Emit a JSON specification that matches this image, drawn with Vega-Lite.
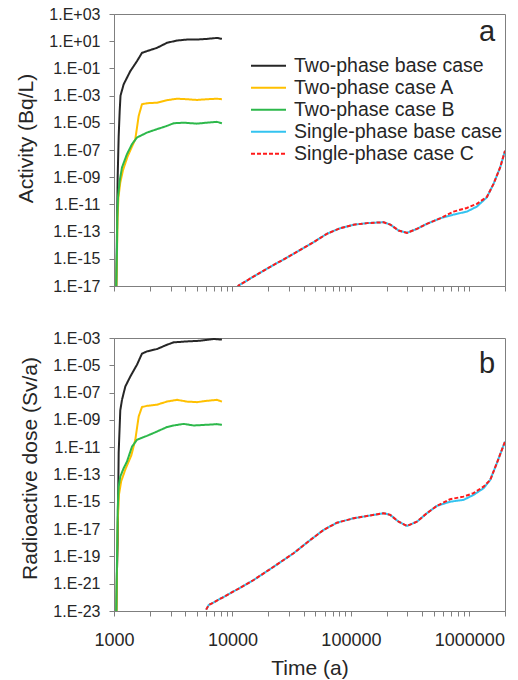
{
  "$schema": "https://vega.github.io/schema/vega-lite/v6.json",
  "padding": {"left": 15, "top": 5, "right": 5, "bottom": 5},
  "config": {
    "font": "Liberation Sans",
    "view": {"stroke": "#7f7f7f", "strokeWidth": 1},
    "axis": {"grid": false, "domainColor": "#7f7f7f", "tickColor": "#7f7f7f", "labelColor": "#262626", "titleColor": "#262626", "labelFont": "Liberation Sans", "titleFont": "Liberation Sans", "titleFontWeight": "normal", "labelFontSize": 16, "titleFontSize": 21, "tickSize": 5},
    "concat": {"spacing": 34}
  },
  "data": {"values": [
    {"panel":"a","series":"Two-phase base case","time":1044,"value":3e-18},
    {"panel":"a","series":"Two-phase base case","time":1060,"value":1e-13},
    {"panel":"a","series":"Two-phase base case","time":1074,"value":1e-9},
    {"panel":"a","series":"Two-phase base case","time":1095,"value":1e-6},
    {"panel":"a","series":"Two-phase base case","time":1117,"value":7.4e-5},
    {"panel":"a","series":"Two-phase base case","time":1135,"value":1e-3},
    {"panel":"a","series":"Two-phase base case","time":1207,"value":6.8e-3},
    {"panel":"a","series":"Two-phase base case","time":1373,"value":0.063},
    {"panel":"a","series":"Two-phase base case","time":1563,"value":0.34},
    {"panel":"a","series":"Two-phase base case","time":1722,"value":1.38},
    {"panel":"a","series":"Two-phase base case","time":1897,"value":1.86},
    {"panel":"a","series":"Two-phase base case","time":2305,"value":3.24},
    {"panel":"a","series":"Two-phase base case","time":2800,"value":7.6},
    {"panel":"a","series":"Two-phase base case","time":3404,"value":11.2},
    {"panel":"a","series":"Two-phase base case","time":4131,"value":13.2},
    {"panel":"a","series":"Two-phase base case","time":5015,"value":13.2},
    {"panel":"a","series":"Two-phase base case","time":6090,"value":14.8},
    {"panel":"a","series":"Two-phase base case","time":7396,"value":17.4},
    {"panel":"a","series":"Two-phase base case","time":8150,"value":14.8},
    {"panel":"a","series":"Two-phase case A","time":1046,"value":1e-18},
    {"panel":"a","series":"Two-phase case A","time":1048,"value":1e-17},
    {"panel":"a","series":"Two-phase case A","time":1063,"value":1e-14},
    {"panel":"a","series":"Two-phase case A","time":1072,"value":1e-12},
    {"panel":"a","series":"Two-phase case A","time":1090,"value":3.2e-11},
    {"panel":"a","series":"Two-phase case A","time":1130,"value":4e-10},
    {"panel":"a","series":"Two-phase case A","time":1190,"value":3.2e-9},
    {"panel":"a","series":"Two-phase case A","time":1300,"value":3.2e-8},
    {"panel":"a","series":"Two-phase case A","time":1420,"value":1.8e-7},
    {"panel":"a","series":"Two-phase case A","time":1513,"value":6.3e-7},
    {"panel":"a","series":"Two-phase case A","time":1616,"value":3.2e-5},
    {"panel":"a","series":"Two-phase case A","time":1722,"value":2.3e-4},
    {"panel":"a","series":"Two-phase case A","time":1897,"value":2.75e-4},
    {"panel":"a","series":"Two-phase case A","time":2305,"value":3e-4},
    {"panel":"a","series":"Two-phase case A","time":2800,"value":4.6e-4},
    {"panel":"a","series":"Two-phase case A","time":3404,"value":5.9e-4},
    {"panel":"a","series":"Two-phase case A","time":4131,"value":5.4e-4},
    {"panel":"a","series":"Two-phase case A","time":5015,"value":4.8e-4},
    {"panel":"a","series":"Two-phase case A","time":6090,"value":5.4e-4},
    {"panel":"a","series":"Two-phase case A","time":7396,"value":5.9e-4},
    {"panel":"a","series":"Two-phase case A","time":8150,"value":5.4e-4},
    {"panel":"a","series":"Two-phase case B","time":1044,"value":1e-18},
    {"panel":"a","series":"Two-phase case B","time":1045,"value":1.6e-17},
    {"panel":"a","series":"Two-phase case B","time":1060,"value":7.2e-15},
    {"panel":"a","series":"Two-phase case B","time":1066,"value":1.15e-12},
    {"panel":"a","series":"Two-phase case B","time":1081,"value":3.3e-11},
    {"panel":"a","series":"Two-phase case B","time":1117,"value":5.5e-10},
    {"panel":"a","series":"Two-phase case B","time":1168,"value":5.2e-9},
    {"panel":"a","series":"Two-phase case B","time":1287,"value":5e-8},
    {"panel":"a","series":"Two-phase case B","time":1419,"value":2.7e-7},
    {"panel":"a","series":"Two-phase case B","time":1563,"value":8.3e-7},
    {"panel":"a","series":"Two-phase case B","time":1897,"value":1.9e-6},
    {"panel":"a","series":"Two-phase case B","time":2305,"value":3.4e-6},
    {"panel":"a","series":"Two-phase case B","time":2800,"value":5.9e-6},
    {"panel":"a","series":"Two-phase case B","time":3190,"value":9.3e-6},
    {"panel":"a","series":"Two-phase case B","time":3874,"value":1.02e-5},
    {"panel":"a","series":"Two-phase case B","time":5015,"value":8.7e-6},
    {"panel":"a","series":"Two-phase case B","time":6090,"value":1.02e-5},
    {"panel":"a","series":"Two-phase case B","time":7396,"value":1.17e-5},
    {"panel":"a","series":"Two-phase case B","time":8150,"value":9.3e-6},
    {"panel":"a","series":"Single-phase base case","time":11000,"value":7.9e-18},
    {"panel":"a","series":"Single-phase base case","time":11270,"value":1.1e-17},
    {"panel":"a","series":"Single-phase base case","time":19540,"value":1.86e-16},
    {"panel":"a","series":"Single-phase base case","time":32800,"value":2.3e-15},
    {"panel":"a","series":"Single-phase base case","time":48400,"value":1.66e-14},
    {"panel":"a","series":"Single-phase base case","time":62700,"value":6.9e-14},
    {"panel":"a","series":"Single-phase base case","time":81200,"value":1.78e-13},
    {"panel":"a","series":"Single-phase base case","time":105400,"value":3.2e-13},
    {"panel":"a","series":"Single-phase base case","time":136500,"value":4.2e-13},
    {"panel":"a","series":"Single-phase base case","time":188800,"value":4.9e-13},
    {"panel":"a","series":"Single-phase base case","time":214800,"value":3.3e-13},
    {"panel":"a","series":"Single-phase base case","time":252800,"value":1.2e-13},
    {"panel":"a","series":"Single-phase base case","time":297200,"value":8.1e-14},
    {"panel":"a","series":"Single-phase base case","time":360800,"value":1.58e-13},
    {"panel":"a","series":"Single-phase base case","time":437800,"value":3.7e-13},
    {"panel":"a","series":"Single-phase base case","time":567000,"value":9.5e-13},
    {"panel":"a","series":"Single-phase base case","time":736000,"value":1.78e-12},
    {"panel":"a","series":"Single-phase base case","time":953000,"value":2.95e-12},
    {"panel":"a","series":"Single-phase base case","time":1157000,"value":6.9e-12},
    {"panel":"a","series":"Single-phase base case","time":1405000,"value":3.3e-11},
    {"panel":"a","series":"Single-phase base case","time":1600000,"value":3.2e-10},
    {"panel":"a","series":"Single-phase base case","time":1820000,"value":5.2e-9},
    {"panel":"a","series":"Single-phase base case","time":2000000,"value":8.7e-8},
    {"panel":"b","series":"Two-phase base case","time":1044,"value":1e-24},
    {"panel":"b","series":"Two-phase base case","time":1060,"value":1e-20},
    {"panel":"b","series":"Two-phase base case","time":1074,"value":1e-18},
    {"panel":"b","series":"Two-phase base case","time":1095,"value":4e-12},
    {"panel":"b","series":"Two-phase base case","time":1130,"value":5e-9},
    {"panel":"b","series":"Two-phase base case","time":1168,"value":2.95e-8},
    {"panel":"b","series":"Two-phase base case","time":1246,"value":2.8e-7},
    {"panel":"b","series":"Two-phase base case","time":1373,"value":1.5e-6},
    {"panel":"b","series":"Two-phase base case","time":1563,"value":1.1e-5},
    {"panel":"b","series":"Two-phase base case","time":1722,"value":7.1e-5},
    {"panel":"b","series":"Two-phase base case","time":1897,"value":1.05e-4},
    {"panel":"b","series":"Two-phase base case","time":2305,"value":1.55e-4},
    {"panel":"b","series":"Two-phase base case","time":2800,"value":3.2e-4},
    {"panel":"b","series":"Two-phase base case","time":3190,"value":4.8e-4},
    {"panel":"b","series":"Two-phase base case","time":4131,"value":5.6e-4},
    {"panel":"b","series":"Two-phase base case","time":5345,"value":6.3e-4},
    {"panel":"b","series":"Two-phase base case","time":6950,"value":8.5e-4},
    {"panel":"b","series":"Two-phase base case","time":8150,"value":7.6e-4},
    {"panel":"b","series":"Two-phase case A","time":1046,"value":1e-24},
    {"panel":"b","series":"Two-phase case A","time":1060,"value":1e-20},
    {"panel":"b","series":"Two-phase case A","time":1075,"value":3.2e-17},
    {"panel":"b","series":"Two-phase case A","time":1100,"value":3.2e-15},
    {"panel":"b","series":"Two-phase case A","time":1150,"value":3.2e-14},
    {"panel":"b","series":"Two-phase case A","time":1250,"value":2.5e-13},
    {"panel":"b","series":"Two-phase case A","time":1400,"value":2.5e-12},
    {"panel":"b","series":"Two-phase case A","time":1513,"value":3.5e-11},
    {"panel":"b","series":"Two-phase case A","time":1616,"value":1.8e-9},
    {"panel":"b","series":"Two-phase case A","time":1722,"value":8.7e-9},
    {"panel":"b","series":"Two-phase case A","time":1897,"value":1.07e-8},
    {"panel":"b","series":"Two-phase case A","time":2305,"value":1.3e-8},
    {"panel":"b","series":"Two-phase case A","time":2800,"value":2.2e-8},
    {"panel":"b","series":"Two-phase case A","time":3404,"value":2.95e-8},
    {"panel":"b","series":"Two-phase case A","time":4131,"value":2.2e-8},
    {"panel":"b","series":"Two-phase case A","time":5015,"value":2e-8},
    {"panel":"b","series":"Two-phase case A","time":6090,"value":2.5e-8},
    {"panel":"b","series":"Two-phase case A","time":7396,"value":2.95e-8},
    {"panel":"b","series":"Two-phase case A","time":8150,"value":2.2e-8},
    {"panel":"b","series":"Two-phase case B","time":1044,"value":1e-24},
    {"panel":"b","series":"Two-phase case B","time":1045,"value":1.2e-23},
    {"panel":"b","series":"Two-phase case B","time":1060,"value":5.4e-20},
    {"panel":"b","series":"Two-phase case B","time":1074,"value":2.5e-16},
    {"panel":"b","series":"Two-phase case B","time":1095,"value":1.3e-14},
    {"panel":"b","series":"Two-phase case B","time":1130,"value":7.1e-14},
    {"panel":"b","series":"Two-phase case B","time":1207,"value":2.9e-13},
    {"panel":"b","series":"Two-phase case B","time":1287,"value":8.9e-13},
    {"panel":"b","series":"Two-phase case B","time":1419,"value":1.1e-11},
    {"panel":"b","series":"Two-phase case B","time":1563,"value":3.5e-11},
    {"panel":"b","series":"Two-phase case B","time":1897,"value":6.8e-11},
    {"panel":"b","series":"Two-phase case B","time":2305,"value":1.4e-10},
    {"panel":"b","series":"Two-phase case B","time":2800,"value":3e-10},
    {"panel":"b","series":"Two-phase case B","time":3190,"value":3.9e-10},
    {"panel":"b","series":"Two-phase case B","time":3874,"value":5.1e-10},
    {"panel":"b","series":"Two-phase case B","time":4706,"value":3.9e-10},
    {"panel":"b","series":"Two-phase case B","time":6090,"value":4.4e-10},
    {"panel":"b","series":"Two-phase case B","time":7396,"value":4.9e-10},
    {"panel":"b","series":"Two-phase case B","time":8150,"value":4.4e-10},
    {"panel":"b","series":"Single-phase base case","time":6000,"value":1.26e-23},
    {"panel":"b","series":"Single-phase base case","time":6300,"value":2.7e-23},
    {"panel":"b","series":"Single-phase base case","time":9570,"value":1.95e-22},
    {"panel":"b","series":"Single-phase base case","time":15090,"value":1.86e-21},
    {"panel":"b","series":"Single-phase base case","time":22270,"value":1.74e-20},
    {"panel":"b","series":"Single-phase base case","time":32800,"value":1.7e-19},
    {"panel":"b","series":"Single-phase base case","time":45380,"value":1.58e-18},
    {"panel":"b","series":"Single-phase base case","time":58860,"value":8.7e-18},
    {"panel":"b","series":"Single-phase base case","time":76250,"value":2.95e-17},
    {"panel":"b","series":"Single-phase base case","time":105400,"value":6.2e-17},
    {"panel":"b","series":"Single-phase base case","time":136500,"value":9.1e-17},
    {"panel":"b","series":"Single-phase base case","time":188800,"value":1.45e-16},
    {"panel":"b","series":"Single-phase base case","time":214800,"value":1.1e-16},
    {"panel":"b","series":"Single-phase base case","time":252800,"value":3.5e-17},
    {"panel":"b","series":"Single-phase base case","time":297200,"value":1.7e-17},
    {"panel":"b","series":"Single-phase base case","time":360800,"value":3.5e-17},
    {"panel":"b","series":"Single-phase base case","time":437800,"value":1.45e-16},
    {"panel":"b","series":"Single-phase base case","time":532000,"value":5e-16},
    {"panel":"b","series":"Single-phase base case","time":688700,"value":1.02e-15},
    {"panel":"b","series":"Single-phase base case","time":893000,"value":1.38e-15},
    {"panel":"b","series":"Single-phase base case","time":1084000,"value":3.2e-15},
    {"panel":"b","series":"Single-phase base case","time":1318000,"value":9.8e-15},
    {"panel":"b","series":"Single-phase base case","time":1500000,"value":4e-14},
    {"panel":"b","series":"Single-phase base case","time":1707000,"value":6.8e-13},
    {"panel":"b","series":"Single-phase base case","time":2000000,"value":2.6e-11},
    {"panel":"a","series":"Single-phase case C","time":11000,"value":7.9e-18},
    {"panel":"a","series":"Single-phase case C","time":11270,"value":1.1e-17},
    {"panel":"a","series":"Single-phase case C","time":19540,"value":1.86e-16},
    {"panel":"a","series":"Single-phase case C","time":32800,"value":2.3e-15},
    {"panel":"a","series":"Single-phase case C","time":48400,"value":1.66e-14},
    {"panel":"a","series":"Single-phase case C","time":62700,"value":6.9e-14},
    {"panel":"a","series":"Single-phase case C","time":81200,"value":1.78e-13},
    {"panel":"a","series":"Single-phase case C","time":105400,"value":3.2e-13},
    {"panel":"a","series":"Single-phase case C","time":136500,"value":4.2e-13},
    {"panel":"a","series":"Single-phase case C","time":188800,"value":4.9e-13},
    {"panel":"a","series":"Single-phase case C","time":214800,"value":3.3e-13},
    {"panel":"a","series":"Single-phase case C","time":252800,"value":1.2e-13},
    {"panel":"a","series":"Single-phase case C","time":297200,"value":8.1e-14},
    {"panel":"a","series":"Single-phase case C","time":360800,"value":1.58e-13},
    {"panel":"a","series":"Single-phase case C","time":437800,"value":3.7e-13},
    {"panel":"a","series":"Single-phase case C","time":567000,"value":9.5e-13},
    {"panel":"a","series":"Single-phase case C","time":736000,"value":2.95e-12},
    {"panel":"a","series":"Single-phase case C","time":953000,"value":5.5e-12},
    {"panel":"a","series":"Single-phase case C","time":1157000,"value":1.1e-11},
    {"panel":"a","series":"Single-phase case C","time":1405000,"value":3.5e-11},
    {"panel":"a","series":"Single-phase case C","time":1600000,"value":3.2e-10},
    {"panel":"a","series":"Single-phase case C","time":1820000,"value":5.2e-9},
    {"panel":"a","series":"Single-phase case C","time":2000000,"value":8.7e-8},
    {"panel":"b","series":"Single-phase case C","time":6000,"value":1.26e-23},
    {"panel":"b","series":"Single-phase case C","time":6300,"value":2.7e-23},
    {"panel":"b","series":"Single-phase case C","time":9570,"value":1.95e-22},
    {"panel":"b","series":"Single-phase case C","time":15090,"value":1.86e-21},
    {"panel":"b","series":"Single-phase case C","time":22270,"value":1.74e-20},
    {"panel":"b","series":"Single-phase case C","time":32800,"value":1.7e-19},
    {"panel":"b","series":"Single-phase case C","time":45380,"value":1.58e-18},
    {"panel":"b","series":"Single-phase case C","time":58860,"value":8.7e-18},
    {"panel":"b","series":"Single-phase case C","time":76250,"value":2.95e-17},
    {"panel":"b","series":"Single-phase case C","time":105400,"value":6.2e-17},
    {"panel":"b","series":"Single-phase case C","time":136500,"value":9.1e-17},
    {"panel":"b","series":"Single-phase case C","time":188800,"value":1.45e-16},
    {"panel":"b","series":"Single-phase case C","time":214800,"value":1.1e-16},
    {"panel":"b","series":"Single-phase case C","time":252800,"value":3.5e-17},
    {"panel":"b","series":"Single-phase case C","time":297200,"value":1.7e-17},
    {"panel":"b","series":"Single-phase case C","time":360800,"value":3.5e-17},
    {"panel":"b","series":"Single-phase case C","time":437800,"value":1.45e-16},
    {"panel":"b","series":"Single-phase case C","time":532000,"value":5e-16},
    {"panel":"b","series":"Single-phase case C","time":688700,"value":1.55e-15},
    {"panel":"b","series":"Single-phase case C","time":893000,"value":2.4e-15},
    {"panel":"b","series":"Single-phase case C","time":1084000,"value":4.3e-15},
    {"panel":"b","series":"Single-phase case C","time":1318000,"value":1.3e-14},
    {"panel":"b","series":"Single-phase case C","time":1500000,"value":4e-14},
    {"panel":"b","series":"Single-phase case C","time":1707000,"value":6.8e-13},
    {"panel":"b","series":"Single-phase case C","time":2000000,"value":2.6e-11}
  ]},
  "resolve": {"scale": {"color": "independent", "strokeDash": "independent"}},
  "vconcat": [
    {
      "width": 391,
      "height": 272,
      "layer": [
        {
          "transform": [{"filter": "datum.panel == 'a'"}],
          "mark": {"type": "line", "strokeWidth": 2, "clip": true},
          "encoding": {
            "x": {"field": "time", "type": "quantitative",
              "scale": {"type": "log", "domain": [1000, 2000000], "nice": false},
              "axis": {"title": null, "labels": false, "values": [1000,2000,3000,4000,5000,6000,7000,8000,9000,10000,20000,30000,40000,50000,60000,70000,80000,90000,100000,200000,300000,400000,500000,600000,700000,800000,900000,1000000,2000000]}},
            "y": {"field": "value", "type": "quantitative",
              "scale": {"type": "log", "domain": [1e-17, 1000], "nice": false},
              "axis": {"title": "Activity (Bq/L)", "titleY": 124, "titlePadding": 12, "labelPadding": 9, "labelOverlap": false, "labelFlush": false, "values": [1000,10,0.1,0.001,1e-5,1e-7,1e-9,1e-11,1e-13,1e-15,1e-17],
                "labelExpr": "'1.E' + (round(log(datum.value)/LN10) < 0 ? '-' : '+') + (abs(round(log(datum.value)/LN10)) < 10 ? '0' : '') + abs(round(log(datum.value)/LN10))"}},
            "color": {"field": "series", "type": "nominal",
              "scale": {"domain": ["Two-phase base case","Two-phase case A","Two-phase case B","Single-phase base case","Single-phase case C"], "range": ["#262626","#FFC000","#2DB84B","#33C3F0","#FF1A1A"]},
              "legend": {"orient": "none", "legendX": 136, "legendY": 41, "title": null, "symbolType": "stroke", "symbolSize": 1225, "symbolStrokeWidth": 2, "labelFontSize": 19.5, "labelFont": "Liberation Sans", "labelColor": "#262626", "labelOffset": 7, "rowPadding": 0, "clipHeight": 21.7, "padding": 0, "labelLimit": 300}},
            "strokeDash": {"field": "series", "type": "nominal",
              "scale": {"domain": ["Two-phase base case","Two-phase case A","Two-phase case B","Single-phase base case","Single-phase case C"], "range": [[1,0],[1,0],[1,0],[1,0],[4,2]]},
              "legend": {"orient": "none", "legendX": 136, "legendY": 41, "title": null, "symbolType": "stroke", "symbolSize": 1225, "symbolStrokeWidth": 2, "labelFontSize": 19.5, "labelFont": "Liberation Sans", "labelColor": "#262626", "labelOffset": 7, "rowPadding": 0, "clipHeight": 21.7, "padding": 0, "labelLimit": 300}}
          }
        },
        {
          "data": {"values": [{"label": "a"}]},
          "mark": {"type": "text", "fontSize": 29, "align": "center", "baseline": "alphabetic", "color": "#262626"},
          "encoding": {
            "x": {"datum": 1410000, "type": "quantitative"},
            "y": {"datum": 10, "type": "quantitative"},
            "text": {"field": "label"}
          }
        }
      ]
    },
    {
      "width": 391,
      "height": 273,
      "layer": [
        {
          "transform": [{"filter": "datum.panel == 'b'"}],
          "mark": {"type": "line", "strokeWidth": 2, "clip": true},
          "encoding": {
            "x": {"field": "time", "type": "quantitative",
              "scale": {"type": "log", "domain": [1000, 2000000], "nice": false},
              "axis": {"title": "Time (a)", "titlePadding": 8, "labelFontSize": 18, "labelPadding": 15, "labelFlush": false, "labelOverlap": false, "labelBound": false,
                "values": [1000,2000,3000,4000,5000,6000,7000,8000,9000,10000,20000,30000,40000,50000,60000,70000,80000,90000,100000,200000,300000,400000,500000,600000,700000,800000,900000,1000000,2000000],
                "labelExpr": "(datum.value == 1000 || datum.value == 10000 || datum.value == 100000 || datum.value == 1000000) ? format(datum.value, 'd') : ''"}},
            "y": {"field": "value", "type": "quantitative",
              "scale": {"type": "log", "domain": [1e-23, 0.001], "nice": false},
              "axis": {"title": "Radioactive dose (Sv/a)", "titleY": 130, "titlePadding": 12, "labelPadding": 9, "labelOverlap": false, "labelFlush": false, "values": [0.001,1e-5,1e-7,1e-9,1e-11,1e-13,1e-15,1e-17,1e-19,1e-21,1e-23],
                "labelExpr": "'1.E' + (round(log(datum.value)/LN10) < 0 ? '-' : '+') + (abs(round(log(datum.value)/LN10)) < 10 ? '0' : '') + abs(round(log(datum.value)/LN10))"}},
            "color": {"field": "series", "type": "nominal",
              "scale": {"domain": ["Two-phase base case","Two-phase case A","Two-phase case B","Single-phase base case","Single-phase case C"], "range": ["#262626","#FFC000","#2DB84B","#33C3F0","#FF1A1A"]},
              "legend": null},
            "strokeDash": {"field": "series", "type": "nominal",
              "scale": {"domain": ["Two-phase base case","Two-phase case A","Two-phase case B","Single-phase base case","Single-phase case C"], "range": [[1,0],[1,0],[1,0],[1,0],[4,2]]},
              "legend": null}
          }
        },
        {
          "data": {"values": [{"label": "b"}]},
          "mark": {"type": "text", "fontSize": 29, "align": "center", "baseline": "alphabetic", "color": "#262626"},
          "encoding": {
            "x": {"datum": 1410000, "type": "quantitative"},
            "y": {"datum": 2.8e-6, "type": "quantitative"},
            "text": {"field": "label"}
          }
        }
      ]
    }
  ]
}
